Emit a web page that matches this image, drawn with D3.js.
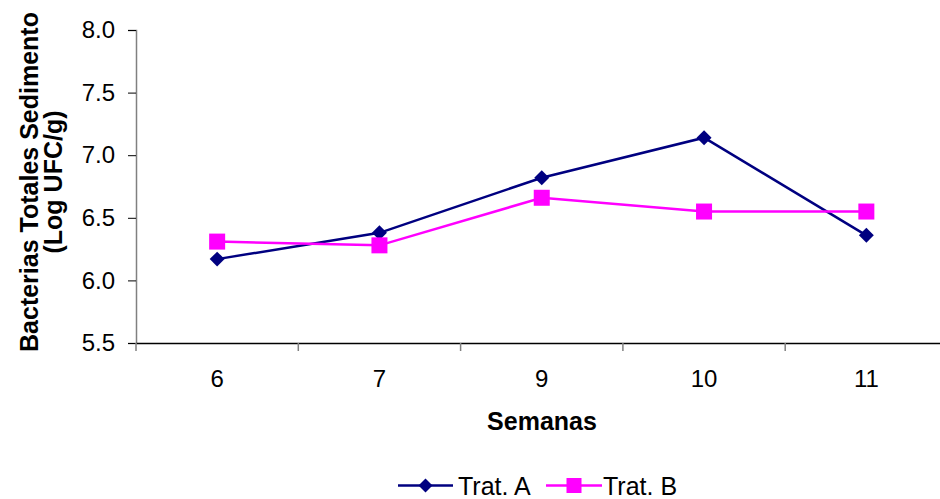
<!DOCTYPE html>
<html><head><meta charset="utf-8">
<script src="https://cdn.jsdelivr.net/npm/d3@7"></script>
<style>body{margin:0;background:#fff}svg{display:block}text{font-family:Arial,"Liberation Sans",sans-serif}</style>
</head><body><svg id="c" width="940" height="499"></svg>
<script>
const categories = ["6","7","9","10","11"];
const trat_A = [6.17, 6.38, 6.82, 7.14, 6.36];
const trat_B = [6.31, 6.28, 6.66, 6.55, 6.55];
const yTicks = [5.5, 6.0, 6.5, 7.0, 7.5, 8.0];
const seriesNames = ["Trat. A", "Trat. B"];
const colors = ["#000080", "#FF00FF"];
const FF = "Arial, Liberation Sans, sans-serif";

const svg = d3.select("#c");
const L = 136, R = 947.5, T = 30, B = 343;
const x = d3.scaleBand().domain(categories).range([L, R]);
const y = d3.scaleLinear().domain([5.5, 8.0]).range([B, T]);

// y axis
const ya = svg.append("g").attr("transform", `translate(${L},0)`)
  .call(d3.axisLeft(y).tickValues(yTicks).tickFormat(d3.format(".1f")).tickSize(8).tickPadding(13));
ya.select(".domain").attr("stroke", "#808080").attr("stroke-width", 1.5);
ya.selectAll(".tick line").attr("stroke", "#000");
ya.selectAll("text").attr("font-size", 24).attr("fill", "#000").attr("font-family", FF);

// x axis
const xa = svg.append("g").attr("transform", `translate(0,${B})`)
  .call(d3.axisBottom(x).tickSize(0).tickPadding(27));
xa.select(".domain").attr("stroke", "#000").attr("stroke-width", 1.5);
xa.selectAll("text").attr("font-size", 24).attr("fill", "#000").attr("font-family", FF);
// boundary ticks
const bounds = categories.map(c => x(c)).concat([x(categories[categories.length-1]) + x.bandwidth()]);
svg.append("g").selectAll("line").data(bounds).join("line")
  .attr("x1", d => d).attr("x2", d => d).attr("y1", B).attr("y2", B + 8)
  .attr("stroke", "#808080").attr("stroke-width", 1.5);

const cx = c => x(c) + x.bandwidth() / 2;
const line = d3.line().x((d, i) => cx(categories[i])).y(d => y(d));

function drawSeries(vals, color, kind) {
  svg.append("path").datum(vals).attr("d", line).attr("fill", "none")
    .attr("stroke", color).attr("stroke-width", 2.5);
  const g = svg.append("g");
  vals.forEach((v, i) => {
    if (kind === "diamond") {
      g.append("path").attr("d", d3.symbol().type(d3.symbolSquare).size(112)())
        .attr("transform", `translate(${cx(categories[i])},${y(v)}) rotate(45)`).attr("fill", color);
    } else {
      g.append("rect").attr("x", cx(categories[i]) - 8).attr("y", y(v) - 8)
        .attr("width", 16).attr("height", 16).attr("fill", color);
    }
  });
}
drawSeries(trat_A, colors[0], "diamond");
drawSeries(trat_B, colors[1], "square");

// axis titles
svg.append("text").attr("x", 542).attr("y", 430).attr("text-anchor", "middle")
  .attr("font-size", 25).attr("font-weight", "bold").text("Semanas");
const yt = svg.append("text").attr("transform", "translate(38,182) rotate(-90)")
  .attr("text-anchor", "middle").attr("font-size", 25).attr("font-weight", "bold");
yt.append("tspan").attr("x", 0).attr("y", 0).text("Bacterias Totales Sedimento");
yt.append("tspan").attr("x", 0).attr("y", 24).text("(Log UFC/g)");

// legend
const lg = svg.append("g");
const ly = 485.5;
lg.append("line").attr("x1", 398).attr("x2", 453).attr("y1", ly).attr("y2", ly).attr("stroke", colors[0]).attr("stroke-width", 2.5);
lg.append("path").attr("d", d3.symbol().type(d3.symbolSquare).size(98)())
  .attr("transform", `translate(425.5,${ly}) rotate(45)`).attr("fill", colors[0]);
lg.append("text").attr("x", 458).attr("y", 495).attr("font-size", 25).text(seriesNames[0]);
lg.append("line").attr("x1", 546).attr("x2", 602).attr("y1", ly).attr("y2", ly).attr("stroke", colors[1]).attr("stroke-width", 2.5);
lg.append("rect").attr("x", 566.5).attr("y", ly - 7.5).attr("width", 15).attr("height", 15).attr("fill", colors[1]);
lg.append("text").attr("x", 603).attr("y", 495).attr("font-size", 25).text(seriesNames[1]);
</script></body></html>
